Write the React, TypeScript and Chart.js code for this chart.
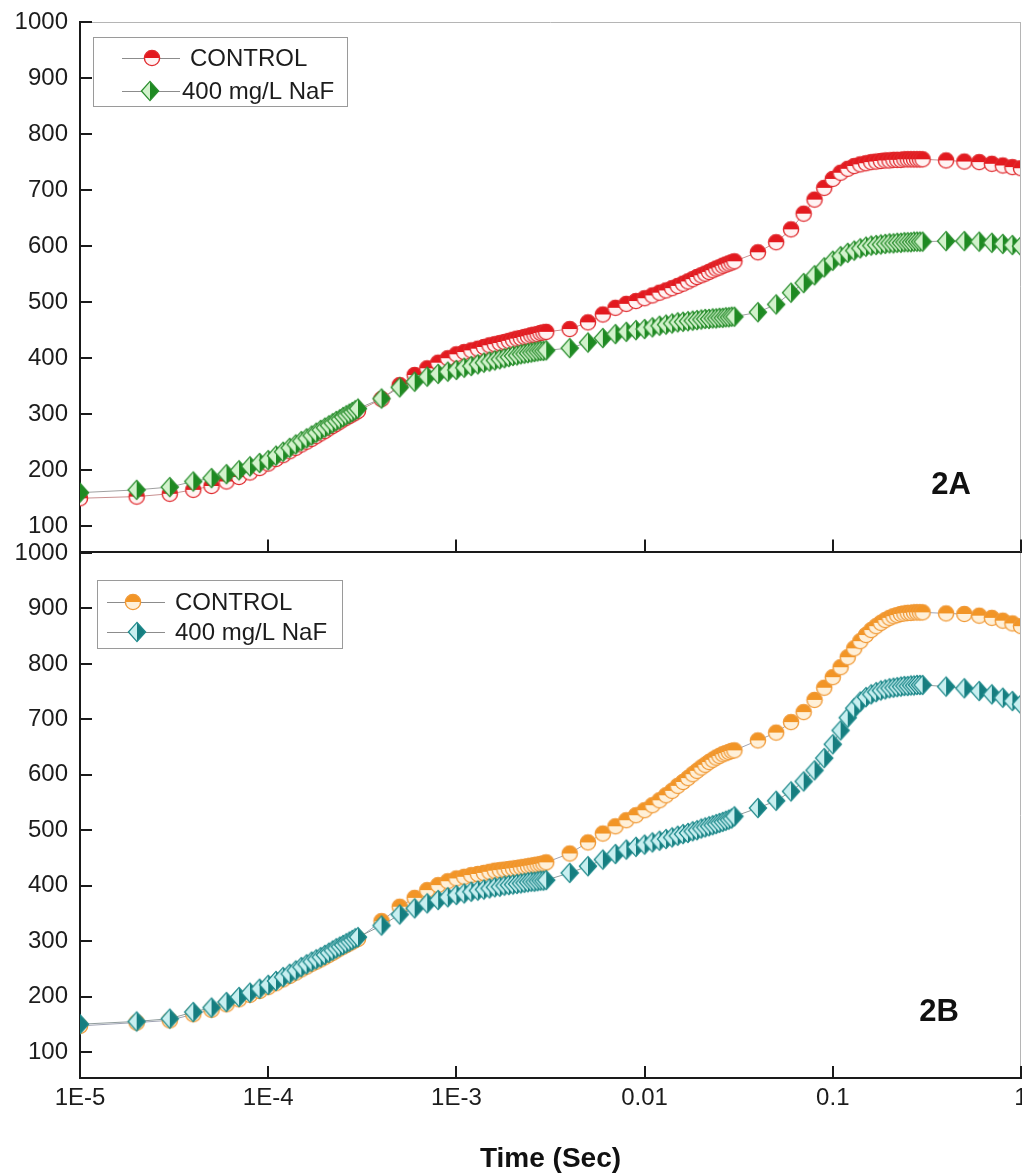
import React, { useEffect, useRef } from 'react';
import { Chart, registerables } from 'chart.js';

Chart.register(...registerables);

// Time points (s)
const timeSec = [
  1e-5, 2e-5, 3e-5, 4e-5, 5e-5, 6e-5, 7e-5, 8e-5, 9e-5,
  1.0e-4, 1.1e-4, 1.2e-4, 1.3e-4, 1.4e-4, 1.5e-4, 1.6e-4, 1.7e-4, 1.8e-4, 1.9e-4, 2.0e-4,
  2.1e-4, 2.2e-4, 2.3e-4, 2.4e-4, 2.5e-4, 2.6e-4, 2.7e-4, 2.8e-4, 2.9e-4, 3.0e-4,
  4e-4, 5e-4, 6e-4, 7e-4, 8e-4, 9e-4,
  1.0e-3, 1.1e-3, 1.2e-3, 1.3e-3, 1.4e-3, 1.5e-3, 1.6e-3, 1.7e-3, 1.8e-3, 1.9e-3, 2.0e-3,
  2.1e-3, 2.2e-3, 2.3e-3, 2.4e-3, 2.5e-3, 2.6e-3, 2.7e-3, 2.8e-3, 2.9e-3, 3.0e-3,
  4e-3, 5e-3, 6e-3, 7e-3, 8e-3, 9e-3,
  1.0e-2, 1.1e-2, 1.2e-2, 1.3e-2, 1.4e-2, 1.5e-2, 1.6e-2, 1.7e-2, 1.8e-2, 1.9e-2, 2.0e-2,
  2.1e-2, 2.2e-2, 2.3e-2, 2.4e-2, 2.5e-2, 2.6e-2, 2.7e-2, 2.8e-2, 2.9e-2, 3.0e-2,
  4e-2, 5e-2, 6e-2, 7e-2, 8e-2, 9e-2,
  0.10, 0.11, 0.12, 0.13, 0.14, 0.15, 0.16, 0.17, 0.18, 0.19, 0.20,
  0.21, 0.22, 0.23, 0.24, 0.25, 0.26, 0.27, 0.28, 0.29, 0.30,
  0.4, 0.5, 0.6, 0.7, 0.8, 0.9, 1.0,
];

// Panel 2A
const controlA = [
  150, 153, 158, 165, 172, 180, 188, 196, 204,
  212, 220, 227, 234, 240, 246, 251, 256, 261, 266, 270, 275, 279, 283, 287, 291, 294, 297, 300, 303, 306,
  327, 352, 370, 382, 392, 400,
  407, 411, 414, 417, 420, 423, 425, 427, 429, 431, 433, 435, 436, 438, 439, 441, 442, 443, 445, 446, 447,
  452, 464, 478, 490, 497, 502,
  507, 512, 517, 521, 525, 529, 533, 537, 541, 545, 548, 551, 554, 557, 560, 562, 565, 567, 569, 571, 573,
  589, 607, 630, 658, 683, 704,
  720, 731, 738, 743, 746, 748, 750, 751, 752, 753, 753, 754, 754, 754, 755, 755, 755, 755, 755, 755, 755,
  753, 751, 750, 747, 744, 741, 739,
];
const nafA = [
  160, 165, 170, 180, 186, 193, 200, 207, 213,
  218, 226, 233, 240, 246, 252, 257, 262, 267, 272, 276, 280, 284, 288, 291, 295, 298, 301, 304, 307, 310,
  328, 348, 358, 367, 372, 376,
  379, 383, 386, 389, 392, 394, 396, 398, 400, 402, 404, 405, 407, 408, 409, 410, 411, 412, 413, 413, 414,
  418, 428, 436, 443, 447, 450,
  452, 455, 458, 460, 462, 464, 465, 466, 467, 468, 469, 470, 470, 471, 471, 472, 472, 473, 473, 474, 474,
  482, 496, 517, 534, 548, 562,
  574, 582, 588, 592, 596, 599, 601, 602, 603, 604, 605, 605, 606, 606, 607, 607, 607, 608, 608, 608, 608,
  609, 609, 608, 606, 604, 602, 600,
];

// Panel 2B
const controlB = [
  147, 153, 157, 168, 176, 186, 195, 203, 210,
  217, 224, 231, 237, 243, 249, 254, 259, 263, 267, 271, 275, 279, 283, 287, 290, 293, 296, 299, 302, 304,
  336, 362, 378, 392, 401, 408,
  413, 416, 419, 421, 423, 425, 427, 428, 429, 430, 431, 432, 433, 434, 435, 436, 437, 438, 439, 440, 442,
  458, 478, 494, 507, 518, 527,
  536, 545, 554, 563, 571, 580, 587, 594, 601, 607, 613, 618, 623, 627, 631, 634, 637, 639, 641, 643, 644,
  662, 676, 695, 713, 735, 757,
  776, 794, 812, 828, 841, 852, 861, 868, 874, 879, 883, 886, 888, 890, 891, 892, 892, 893, 893, 893, 893,
  891, 890, 887, 883, 878, 873, 868,
];
const nafB = [
  150, 155, 160, 172, 180, 190, 199, 207, 214,
  221, 228, 235, 241, 247, 253, 258, 263, 267, 271, 275, 279, 283, 287, 290, 293, 296, 299, 302, 305, 307,
  328, 348, 359, 368, 374, 379,
  383, 386, 389, 391, 393, 395, 397, 398, 400, 401, 402, 403, 404, 405, 406, 407, 407, 408, 409, 409, 410,
  423, 435, 447, 457, 465, 470,
  474, 478, 481, 484, 487, 490, 493, 495, 498, 500, 503, 505, 507, 509, 511, 513, 515, 517, 519, 521, 525,
  540, 553, 570, 588, 608, 630,
  655, 680, 703, 720, 732, 740, 745, 749, 752, 754, 756, 757, 758, 759, 760, 760, 761, 761, 762, 762, 762,
  759, 756, 751, 745, 739, 733, 727,
];

const yTickValues = [100, 200, 300, 400, 500, 600, 700, 800, 900, 1000];
const xTickValues = [1e-5, 1e-4, 1e-3, 1e-2, 1e-1, 1];
const xTickLabels = ['1E-5', '1E-4', '1E-3', '0.01', '0.1', '1'];
const legendLabels = ['CONTROL', '400 mg/L NaF'];
const panelLabels = ['2A', '2B'];
const xTitle = 'Time (Sec)';

const FAMILY = '"Liberation Sans", Arial, Helvetica, sans-serif';

function makeCircle(top: string, bottom: string, stroke: string) {
  const r = 7.6, lw = 1.4;
  const s = 20;
  const c = document.createElement('canvas');
  c.width = s; c.height = s;
  const g = c.getContext('2d')!;
  const cx = s / 2, cy = s / 2;
  g.beginPath(); g.arc(cx, cy, r, Math.PI, 2 * Math.PI); g.closePath(); g.fillStyle = top; g.fill();
  g.beginPath(); g.arc(cx, cy, r, 0, Math.PI); g.closePath(); g.fillStyle = bottom; g.fill();
  g.beginPath(); g.arc(cx, cy, r, 0, 2 * Math.PI); g.strokeStyle = stroke; g.lineWidth = lw; g.stroke();
  return c;
}

function makeDiamond(left: string, right: string, stroke: string) {
  const hw = 8.6, hh = 9.6, lw = 1.3;
  const w = 22, h = 24;
  const c = document.createElement('canvas');
  c.width = w; c.height = h;
  const g = c.getContext('2d')!;
  const cx = w / 2, cy = h / 2;
  g.beginPath(); g.moveTo(cx, cy - hh); g.lineTo(cx - hw, cy); g.lineTo(cx, cy + hh); g.closePath(); g.fillStyle = left; g.fill();
  g.beginPath(); g.moveTo(cx, cy - hh); g.lineTo(cx + hw, cy); g.lineTo(cx, cy + hh); g.closePath(); g.fillStyle = right; g.fill();
  g.beginPath(); g.moveTo(cx, cy - hh); g.lineTo(cx + hw, cy); g.lineTo(cx, cy + hh); g.lineTo(cx - hw, cy); g.closePath();
  g.strokeStyle = stroke; g.lineWidth = lw; g.stroke();
  return c;
}

const decorPlugin = {
  id: 'decor',
  afterDraw(chart: any, _args: any, o: any) {
    const { ctx, chartArea: a, scales } = chart;
    ctx.save();
    // light frame
    ctx.strokeStyle = '#b5b5b5';
    ctx.lineWidth = 1;
    ctx.beginPath();
    if (o.topFrame) { ctx.moveTo(a.left, a.top + 0.5); ctx.lineTo(a.right, a.top + 0.5); }
    ctx.moveTo(a.right - 0.5, a.top); ctx.lineTo(a.right - 0.5, a.bottom);
    ctx.stroke();
    // inward ticks
    ctx.strokeStyle = '#1a1a1a';
    ctx.lineWidth = 2;
    ctx.beginPath();
    scales.y.ticks.forEach((t: any) => {
      const py = Math.round(scales.y.getPixelForValue(t.value));
      ctx.moveTo(a.left, py); ctx.lineTo(a.left + 12, py);
    });
    scales.x.ticks.forEach((t: any) => {
      const px = Math.round(scales.x.getPixelForValue(t.value));
      ctx.moveTo(px, a.bottom); ctx.lineTo(px, a.bottom - 12);
    });
    ctx.stroke();
    // legend
    const L = o.legend;
    const bx = a.left + L.dx, by = a.top + L.dy;
    ctx.fillStyle = '#ffffff';
    ctx.fillRect(bx, by, L.w, L.h);
    ctx.strokeStyle = '#9a9a9a';
    ctx.lineWidth = 1;
    ctx.strokeRect(bx + 0.5, by + 0.5, L.w, L.h);
    L.rows.forEach((r: any) => {
      const y = a.top + r.dy;
      ctx.strokeStyle = '#8c8c8c';
      ctx.lineWidth = 1;
      ctx.beginPath();
      ctx.moveTo(a.left + r.l0, y + 0.5); ctx.lineTo(a.left + r.l1, y + 0.5);
      ctx.stroke();
      const img = r.img;
      ctx.drawImage(img, a.left + r.m - img.width / 2, y - img.height / 2);
      ctx.fillStyle = '#1c1c1c';
      ctx.font = `24px ${FAMILY}`;
      ctx.textBaseline = 'middle';
      ctx.textAlign = 'left';
      ctx.fillText(r.text, a.left + r.t, y + 1);
    });
    // panel label
    ctx.fillStyle = '#111';
    ctx.font = `bold 31px ${FAMILY}`;
    ctx.textAlign = 'center';
    ctx.textBaseline = 'middle';
    ctx.fillText(o.panel, a.right + o.pdx, a.bottom + o.pdy);
    ctx.restore();
  },
};

function makeConfig(p: any) {
  const ds = (values: number[], style: any, line: string, label: string, order: number) => ({
    label,
    data: timeSec.map((t, i) => ({ x: t, y: values[i] })),
    borderColor: line,
    backgroundColor: line,
    borderWidth: 1,
    pointStyle: style,
    pointRadius: 7.5,
    pointHoverRadius: 7.5,
    tension: 0,
    fill: false,
    order,
  });
  return {
    type: 'line',
    data: {
      datasets: [
        ds(p.naf, p.nafStyle, p.nafLine, legendLabels[1], 0),
        ds(p.control, p.ctrlStyle, p.ctrlLine, legendLabels[0], 1),
      ],
    },
    options: {
      responsive: false,
      animation: false,
      events: [],
      layout: { padding: p.padding },
      plugins: {
        legend: { display: false },
        tooltip: { enabled: false },
        decor: p.decor,
      },
      scales: {
        x: {
          type: 'logarithmic',
          min: 1e-5,
          max: 1,
          grid: { display: false, drawTicks: false },
          border: { display: true, color: '#1a1a1a', width: 2 },
          afterBuildTicks: (s: any) => { s.ticks = xTickValues.map((v) => ({ value: v })); },
          ticks: {
            display: p.isBottom,
            autoSkip: false,
            maxRotation: 0,
            minRotation: 0,
            padding: 6,
            color: '#1c1c1c',
            font: { family: FAMILY, size: 24 },
            callback: (_v: any, i: number) => xTickLabels[i],
          },
          title: {
            display: p.isBottom,
            text: xTitle,
            color: '#111',
            font: { family: FAMILY, size: 28, weight: 'bold' },
            padding: { top: 0, bottom: 0 },
          },
          afterFit: (s: any) => {
            s.height = p.xHeight;
            s.paddingLeft = 0; s.paddingRight = 0; s.paddingTop = 0; s.paddingBottom = 0;
          },
        },
        y: {
          type: 'linear',
          min: p.yMin,
          max: 1000,
          grid: { display: false, drawTicks: false },
          border: { display: true, color: '#1a1a1a', width: 2 },
          afterBuildTicks: (s: any) => { s.ticks = yTickValues.map((v) => ({ value: v })); },
          ticks: {
            padding: 12,
            color: '#1c1c1c',
            font: { family: FAMILY, size: 24 },
            callback: (v: any) => String(v),
          },
          afterFit: (s: any) => {
            s.width = 80;
            s.paddingLeft = 0; s.paddingRight = 0; s.paddingTop = 0; s.paddingBottom = 0;
          },
        },
      },
    },
    plugins: [decorPlugin],
  };
}

export default function App() {
  const topRef = useRef<HTMLCanvasElement>(null);
  const botRef = useRef<HTMLCanvasElement>(null);

  useEffect(() => {
    const red = makeCircle('#e3191f', '#fff3f3', '#e02a2e');
    const green = makeDiamond('#d2f2cc', '#1e8a22', '#2b8f2f');
    const orange = makeCircle('#f29526', '#fff0d8', '#f09a38');
    const teal = makeDiamond('#c8eff0', '#167e80', '#1f8a8c');

    const c1 = new Chart(topRef.current as HTMLCanvasElement, makeConfig({
      control: controlA, naf: nafA,
      ctrlStyle: red, nafStyle: green,
      ctrlLine: '#c99090', nafLine: '#a0a0a0',
      yMin: 55, isBottom: false, xHeight: 0,
      padding: { top: 22, left: 0, right: 39, bottom: 7 },
      decor: {
        topFrame: true,
        panel: panelLabels[0], pdx: -70, pdy: -66,
        legend: {
          dx: 13, dy: 15, w: 254, h: 69,
          rows: [
            { dy: 36, l0: 42, l1: 100, m: 72, t: 110, img: red, text: legendLabels[0] },
            { dy: 69, l0: 42, l1: 100, m: 70, t: 102, img: green, text: legendLabels[1] },
          ],
        },
      },
    }) as any);

    const c2 = new Chart(botRef.current as HTMLCanvasElement, makeConfig({
      control: controlB, naf: nafB,
      ctrlStyle: orange, nafStyle: teal,
      ctrlLine: '#a0a4b4', nafLine: '#909c9c',
      yMin: 53, isBottom: true, xHeight: 98,
      padding: { top: 13, left: 0, right: 39, bottom: 0 },
      decor: {
        topFrame: false,
        panel: panelLabels[1], pdx: -82, pdy: -66,
        legend: {
          dx: 17, dy: 27, w: 245, h: 68,
          rows: [
            { dy: 49, l0: 27, l1: 85, m: 53, t: 95, img: orange, text: legendLabels[0] },
            { dy: 79, l0: 27, l1: 85, m: 57, t: 95, img: teal, text: legendLabels[1] },
          ],
        },
      },
    }) as any);

    return () => { c1.destroy(); c2.destroy(); };
  }, []);

  return (
    <div style={{ position: 'absolute', left: 0, top: 0, width: 1022, height: 1176, overflow: 'hidden', background: '#ffffff' }}>
      <canvas ref={topRef} width={1060} height={560} style={{ position: 'absolute', left: 0, top: 0, width: 1060, height: 560 }} />
      <canvas ref={botRef} width={1060} height={636} style={{ position: 'absolute', left: 0, top: 540, width: 1060, height: 636 }} />
    </div>
  );
}
